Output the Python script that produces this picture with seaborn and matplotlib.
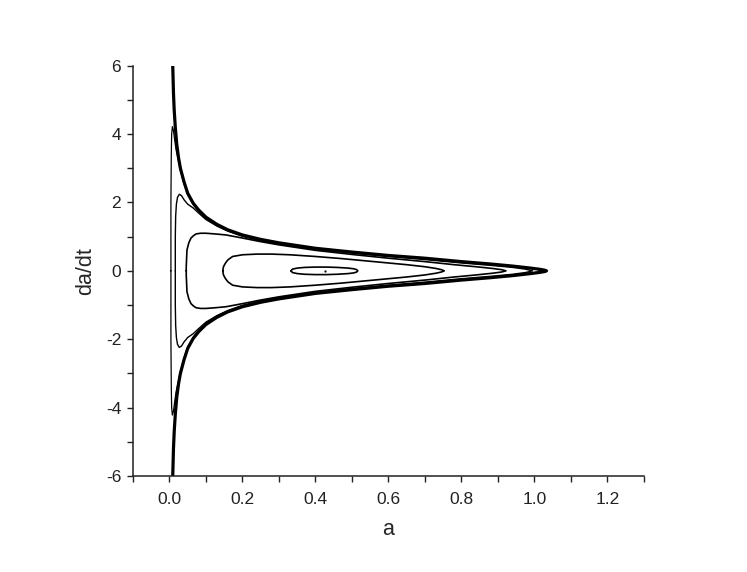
import matplotlib
matplotlib.use("Agg")
import matplotlib.pyplot as plt
from matplotlib.ticker import MultipleLocator
import seaborn as sns

# upper halves of the phase curves (a, da/dt)
# the lower halves are the mirror image (curves are symmetric in da/dt)
sep_a = [0.009, 0.011, 0.013, 0.016, 0.020, 0.025, 0.030, 0.040, 0.050, 0.065,
         0.080, 0.100, 0.130, 0.160, 0.200, 0.250, 0.300, 0.400, 0.500, 0.600,
         0.700, 0.800, 0.880, 0.940, 0.990, 1.015, 1.028, 1.033]
sep_v = [6.0, 5.2, 4.7, 4.2, 3.7, 3.3, 3.0, 2.6, 2.27, 1.98,
         1.78, 1.57, 1.36, 1.20, 1.05, 0.92, 0.82, 0.66, 0.55, 0.45,
         0.37, 0.27, 0.20, 0.14, 0.08, 0.045, 0.02, 0.0]

orb6_a = [0.004, 0.004, 0.005, 0.006, 0.008, 0.011, 0.014, 0.018, 0.025, 0.030,
          0.040, 0.050, 0.065, 0.080, 0.100, 0.130, 0.160, 0.200, 0.250, 0.300,
          0.400, 0.500, 0.600, 0.700, 0.800, 0.880, 0.940, 0.985, 1.008, 1.022]
orb6_v = [0.0, 2.0, 3.4, 4.0, 4.22, 4.1, 3.85, 3.55, 3.2, 2.93,
          2.54, 2.22, 1.94, 1.74, 1.53, 1.32, 1.17, 1.02, 0.89, 0.79,
          0.64, 0.53, 0.43, 0.35, 0.25, 0.18, 0.12, 0.07, 0.04, 0.0]

orb5_a = [0.016, 0.016, 0.017, 0.019, 0.022, 0.027, 0.033, 0.040, 0.050, 0.065,
          0.080, 0.100, 0.130, 0.160, 0.200, 0.250, 0.300, 0.400, 0.500, 0.600,
          0.700, 0.800, 0.880, 0.940, 0.975, 0.995]
orb5_v = [0.0, 1.0, 1.6, 1.95, 2.15, 2.24, 2.2, 2.08, 1.95, 1.84,
          1.69, 1.50, 1.31, 1.16, 1.01, 0.88, 0.78, 0.63, 0.52, 0.42,
          0.33, 0.23, 0.16, 0.10, 0.05, 0.0]

orb4_a = [0.046, 0.046, 0.048, 0.053, 0.059, 0.066, 0.073, 0.085, 0.100, 0.125,
          0.155, 0.200, 0.247, 0.300, 0.400, 0.500, 0.600, 0.700, 0.780, 0.840,
          0.885, 0.910, 0.922]
orb4_v = [0.0, 0.13, 0.61, 0.82, 0.96, 1.03, 1.08, 1.10, 1.10, 1.08,
          1.05, 0.96, 0.86, 0.76, 0.60, 0.48, 0.37, 0.27, 0.18, 0.12,
          0.07, 0.035, 0.0]

orb3_a = [0.146, 0.148, 0.153, 0.160, 0.173, 0.200, 0.240, 0.280, 0.330, 0.400,
          0.470, 0.540, 0.600, 0.650, 0.700, 0.730, 0.745, 0.753]
orb3_v = [0.0, 0.12, 0.22, 0.32, 0.42, 0.47, 0.49, 0.49, 0.47, 0.42,
          0.36, 0.29, 0.23, 0.18, 0.12, 0.07, 0.035, 0.0]

orb2_a = [0.333, 0.337, 0.350, 0.370, 0.400, 0.430, 0.460, 0.490, 0.505, 0.513, 0.516]
orb2_v = [0.0, 0.05, 0.08, 0.10, 0.11, 0.11, 0.10, 0.08, 0.06, 0.035, 0.0]

center_a = [0.425]
center_v = [0.0]

sns.set_style("ticks")
plt.rcParams['font.family'] = ['Liberation Sans', 'DejaVu Sans']
plt.rcParams['axes.unicode_minus'] = False

fig = plt.figure(figsize=(7.47, 5.72), dpi=100)
ax = fig.add_axes([0.178, 0.168, 0.684, 0.717])


def full_loop(a, v):
    # go along the upper half, then back along the mirrored lower half
    return a + a[::-1], v + [-x for x in v[::-1]]


curves = [
    (sep_a, sep_v, 2.3),
    (orb6_a, orb6_v, 0.9),
    (orb5_a, orb5_v, 1.0),
    (orb4_a, orb4_v, 1.2),
    (orb3_a, orb3_v, 1.2),
    (orb2_a, orb2_v, 1.2),
]
for a, v, lw in curves:
    xs, ys = full_loop(a, v)
    sns.lineplot(x=xs, y=ys, sort=False, estimator=None, color='black',
                 lw=lw, ax=ax)

sns.scatterplot(x=center_a, y=center_v, color='black', s=3, ax=ax)

ax.set_xlim(-0.1, 1.3)
ax.set_ylim(-6, 6)
ax.xaxis.set_minor_locator(MultipleLocator(0.1))
ax.yaxis.set_major_locator(MultipleLocator(2))
ax.yaxis.set_minor_locator(MultipleLocator(1))
ax.set_xticks([0.0, 0.2, 0.4, 0.6, 0.8, 1.0, 1.2])
ax.set_xticklabels(['0.0', '0.2', '0.4', '0.6', '0.8', '1.0', '1.2'])

ax.tick_params(which='both', direction='out', length=4.5, width=1.0,
               colors='#222222', labelsize=12.5)
ax.tick_params(axis='x', pad=7)
ax.tick_params(axis='y', pad=4)
for s in ['left', 'bottom']:
    ax.spines[s].set_linewidth(1.1)
    ax.spines[s].set_color('#222222')
sns.despine(ax=ax)

ax.set_xlabel('a', fontsize=15.5, labelpad=9)
ax.set_ylabel('da/dt', fontsize=15.5, labelpad=7)

fig.savefig('out.png', dpi=100)
